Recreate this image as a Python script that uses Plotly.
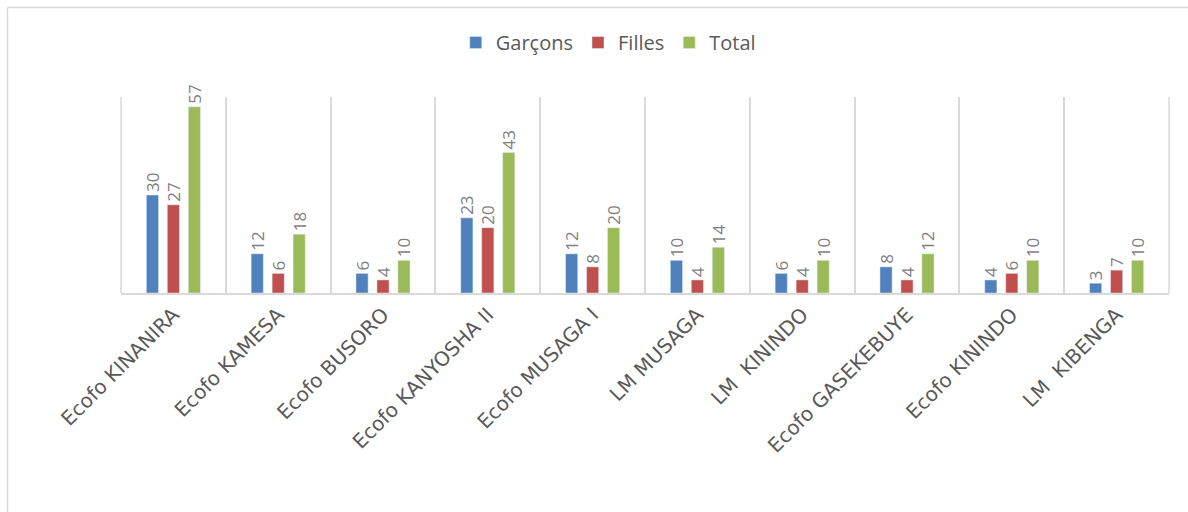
import plotly.graph_objects as go

categories = ["Ecofo KINANIRA", "Ecofo KAMESA", "Ecofo BUSORO", "Ecofo KANYOSHA II",
              "Ecofo MUSAGA I", "LM MUSAGA", "LM  KININDO", "Ecofo GASEKEBUYE",
              "Ecofo KININDO", "LM  KIBENGA"]
garcons = [30, 12, 6, 23, 12, 10, 6, 8, 4, 3]
filles = [27, 6, 4, 20, 8, 4, 4, 4, 6, 7]
total = [57, 18, 10, 43, 20, 14, 10, 12, 10, 10]

series = [("Garçons", garcons, "#4F81BD"), ("Filles", filles, "#C0504D"), ("Total", total, "#9BBB59")]

fig = go.Figure()
for name, vals, col in series:
    fig.add_trace(go.Bar(
        x=categories, y=vals, name=name, marker_color=col,
        text=vals, textposition="outside", textangle=-90, constraintext="none",
        textfont=dict(family="Open Sans", size=17, color="#7F7F7F"),
        cliponaxis=False,
    ))

W, H = 1188, 512
fig.update_layout(
    width=W, height=H,
    margin=dict(l=121, r=19, t=97, b=219),
    paper_bgcolor="white", plot_bgcolor="white",
    barmode="group", bargap=0.4, bargroupgap=0.42,
    legend=dict(orientation="h", x=0.512, xref="container", xanchor="center", y=0.955, yref="container",
                yanchor="top", font=dict(family="Open Sans", size=20, color="#595959"),
                traceorder="normal"),
    xaxis=dict(
        tickson="boundaries", showgrid=True, gridcolor="#D9D9D9", gridwidth=1.5,
        showline=True, linecolor="#D9D9D9", linewidth=2, ticks="",
        tickangle=-45, tickfont=dict(family="DejaVu Sans, Verdana, sans-serif", size=20, color="#595959"),
        range=[-0.5, 9.5],
    ),
    yaxis=dict(visible=False, range=[0, 60], showgrid=False, zeroline=False),
    shapes=[
        dict(type="line", xref="paper", yref="paper", x0=0, x1=0, y0=0, y1=1,
             line=dict(color="#D9D9D9", width=1.5)),
        dict(type="line", xref="paper", yref="paper", x0=1, x1=1, y0=0, y1=1,
             line=dict(color="#D9D9D9", width=1.5)),
    ],
)
pw = W - 121 - 19
ph = H - 97 - 219
x_left = (7.5 - 121) / pw
y_top = (H - 7.5 - 219) / ph
y_bot = (0 - 219) / ph
x_right = (W - 121) / pw
fig.add_shape(type="line", xref="paper", yref="paper", x0=x_left, x1=x_left, y0=y_bot, y1=y_top,
              line=dict(color="#D9D9D9", width=1.5))
fig.add_shape(type="line", xref="paper", yref="paper", x0=x_left, x1=x_right, y0=y_top, y1=y_top,
              line=dict(color="#D9D9D9", width=1.5))

fig.write_html("out.html")
